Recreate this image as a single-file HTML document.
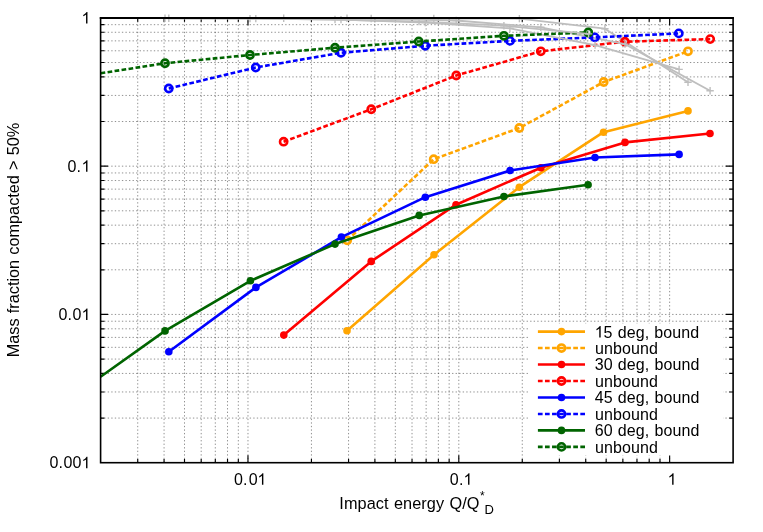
<!DOCTYPE html>
<html><head><meta charset="utf-8"><title>plot</title>
<style>html,body{margin:0;padding:0;background:#fff}svg{display:block;will-change:transform}text{font-family:"Liberation Sans",sans-serif;fill:#000}</style></head><body>
<svg width="763" height="532" viewBox="0 0 763 532" font-size="16">
<rect width="763" height="532" fill="#fff"/>
<path d="M137.73 462.7V17.9M164.07 462.7V17.9M184.5 462.7V17.9M201.19 462.7V17.9M215.31 462.7V17.9M227.53 462.7V17.9M238.32 462.7V17.9M247.97 462.7V17.9M311.43 462.7V17.9M348.56 462.7V17.9M374.9 462.7V17.9M395.33 462.7V17.9M412.03 462.7V17.9M426.14 462.7V17.9M438.37 462.7V17.9M449.15 462.7V17.9M458.8 462.7V17.9M522.27 462.7V17.9M559.39 462.7V17.9M585.73 462.7V17.9M606.17 462.7V17.9M622.86 462.7V17.9M636.97 462.7V17.9M649.2 462.7V17.9M659.99 462.7V17.9M669.63 462.7V17.9M100.6 418.07H733.1M100.6 391.96H733.1M100.6 373.43H733.1M100.6 359.07H733.1M100.6 347.33H733.1M100.6 337.4H733.1M100.6 328.8H733.1M100.6 321.22H733.1M100.6 314.43H733.1M100.6 269.8H733.1M100.6 243.69H733.1M100.6 225.17H733.1M100.6 210.8H733.1M100.6 199.06H733.1M100.6 189.13H733.1M100.6 180.54H733.1M100.6 172.95H733.1M100.6 166.17H733.1M100.6 121.53H733.1M100.6 95.43H733.1M100.6 76.9H733.1M100.6 62.53H733.1M100.6 50.79H733.1M100.6 40.87H733.1M100.6 32.27H733.1M100.6 24.68H733.1" stroke="#000" stroke-opacity="0.58" stroke-width="0.75" stroke-dasharray="1.35 2.2" fill="none"/>
<path d="M137.73 462.7v-3.8M137.73 17.9v3.8M164.07 462.7v-3.8M164.07 17.9v3.8M184.5 462.7v-3.8M184.5 17.9v3.8M201.19 462.7v-3.8M201.19 17.9v3.8M215.31 462.7v-3.8M215.31 17.9v3.8M227.53 462.7v-3.8M227.53 17.9v3.8M238.32 462.7v-3.8M238.32 17.9v3.8M247.97 462.7v-7.4M247.97 17.9v7.4M311.43 462.7v-3.8M311.43 17.9v3.8M348.56 462.7v-3.8M348.56 17.9v3.8M374.9 462.7v-3.8M374.9 17.9v3.8M395.33 462.7v-3.8M395.33 17.9v3.8M412.03 462.7v-3.8M412.03 17.9v3.8M426.14 462.7v-3.8M426.14 17.9v3.8M438.37 462.7v-3.8M438.37 17.9v3.8M449.15 462.7v-3.8M449.15 17.9v3.8M458.8 462.7v-7.4M458.8 17.9v7.4M522.27 462.7v-3.8M522.27 17.9v3.8M559.39 462.7v-3.8M559.39 17.9v3.8M585.73 462.7v-3.8M585.73 17.9v3.8M606.17 462.7v-3.8M606.17 17.9v3.8M622.86 462.7v-3.8M622.86 17.9v3.8M636.97 462.7v-3.8M636.97 17.9v3.8M649.2 462.7v-3.8M649.2 17.9v3.8M659.99 462.7v-3.8M659.99 17.9v3.8M669.63 462.7v-7.4M669.63 17.9v7.4M100.6 418.07h3.8M733.1 418.07h-3.8M100.6 391.96h3.8M733.1 391.96h-3.8M100.6 373.43h3.8M733.1 373.43h-3.8M100.6 359.07h3.8M733.1 359.07h-3.8M100.6 347.33h3.8M733.1 347.33h-3.8M100.6 337.4h3.8M733.1 337.4h-3.8M100.6 328.8h3.8M733.1 328.8h-3.8M100.6 321.22h3.8M733.1 321.22h-3.8M100.6 314.43h7.4M733.1 314.43h-7.4M100.6 269.8h3.8M733.1 269.8h-3.8M100.6 243.69h3.8M733.1 243.69h-3.8M100.6 225.17h3.8M733.1 225.17h-3.8M100.6 210.8h3.8M733.1 210.8h-3.8M100.6 199.06h3.8M733.1 199.06h-3.8M100.6 189.13h3.8M733.1 189.13h-3.8M100.6 180.54h3.8M733.1 180.54h-3.8M100.6 172.95h3.8M733.1 172.95h-3.8M100.6 166.17h7.4M733.1 166.17h-7.4M100.6 121.53h3.8M733.1 121.53h-3.8M100.6 95.43h3.8M733.1 95.43h-3.8M100.6 76.9h3.8M733.1 76.9h-3.8M100.6 62.53h3.8M733.1 62.53h-3.8M100.6 50.79h3.8M733.1 50.79h-3.8M100.6 40.87h3.8M733.1 40.87h-3.8M100.6 32.27h3.8M733.1 32.27h-3.8M100.6 24.68h3.8M733.1 24.68h-3.8" stroke="#000" stroke-width="1.15" fill="none"/>
<g fill="none" stroke-linejoin="round">
<path d="M347 330.7L434 254.8L519.3 187.2L603.5 132.2L688 110.9" stroke="#ffa500" stroke-width="2.6"/>
<circle cx="347" cy="330.7" r="3.8" fill="#ffa500"/>
<circle cx="434" cy="254.8" r="3.8" fill="#ffa500"/>
<circle cx="519.3" cy="187.2" r="3.8" fill="#ffa500"/>
<circle cx="603.5" cy="132.2" r="3.8" fill="#ffa500"/>
<circle cx="688" cy="110.9" r="3.8" fill="#ffa500"/>
<path d="M347.2 240.3L433.7 159.2L519.3 128L603.7 82L688 51.3" stroke="#ffa500" stroke-width="2.6" stroke-dasharray="4.7 2.37"/>
<circle cx="347.2" cy="240.3" r="3.6" stroke="#ffa500" stroke-width="2.6"/>
<circle cx="433.7" cy="159.2" r="3.6" stroke="#ffa500" stroke-width="2.6"/>
<circle cx="519.3" cy="128" r="3.6" stroke="#ffa500" stroke-width="2.6"/>
<circle cx="603.7" cy="82" r="3.6" stroke="#ffa500" stroke-width="2.6"/>
<circle cx="688" cy="51.3" r="3.6" stroke="#ffa500" stroke-width="2.6"/>
<path d="M347 18.2L433.8 18.5L519.4 18.6L604.9 28.7L688 82.2" stroke="#bebebe" stroke-width="1.8"/>
<path d="M343.3 18.2h7.4M347 14.5v7.4M430.1 18.5h7.4M433.8 14.8v7.4M515.7 18.6h7.4M519.4 14.9v7.4M601.2 28.7h7.4M604.9 25v7.4M684.3 82.2h7.4M688 78.5v7.4" stroke="#bebebe" stroke-width="1.4"/>
<path d="M283.8 335.1L371.2 261.4L456 204.7L540.9 167.7L625 142.4L710 133.5" stroke="#ff0000" stroke-width="2.6"/>
<circle cx="283.8" cy="335.1" r="3.8" fill="#ff0000"/>
<circle cx="371.2" cy="261.4" r="3.8" fill="#ff0000"/>
<circle cx="456" cy="204.7" r="3.8" fill="#ff0000"/>
<circle cx="540.9" cy="167.7" r="3.8" fill="#ff0000"/>
<circle cx="625" cy="142.4" r="3.8" fill="#ff0000"/>
<circle cx="710" cy="133.5" r="3.8" fill="#ff0000"/>
<path d="M283.6 141.7L371.25 109.25L456.25 75.5L540.8 51.3L624.9 41.7L710.2 39.1" stroke="#ff0000" stroke-width="2.6" stroke-dasharray="4.7 2.37"/>
<circle cx="283.6" cy="141.7" r="3.6" stroke="#ff0000" stroke-width="2.6"/>
<circle cx="371.25" cy="109.25" r="3.6" stroke="#ff0000" stroke-width="2.6"/>
<circle cx="456.25" cy="75.5" r="3.6" stroke="#ff0000" stroke-width="2.6"/>
<circle cx="540.8" cy="51.3" r="3.6" stroke="#ff0000" stroke-width="2.6"/>
<circle cx="624.9" cy="41.7" r="3.6" stroke="#ff0000" stroke-width="2.6"/>
<circle cx="710.2" cy="39.1" r="3.6" stroke="#ff0000" stroke-width="2.6"/>
<path d="M283.7 18.2L371.2 18.5L456.2 20.5L540.8 27.3L625 44.1L710.1 90.8" stroke="#bebebe" stroke-width="1.8"/>
<path d="M280 18.2h7.4M283.7 14.5v7.4M367.5 18.5h7.4M371.2 14.8v7.4M452.5 20.5h7.4M456.2 16.8v7.4M537.1 27.3h7.4M540.8 23.6v7.4M621.3 44.1h7.4M625 40.4v7.4M706.4 90.8h7.4M710.1 87.1v7.4" stroke="#bebebe" stroke-width="1.4"/>
<path d="M168.8 351.7L255.9 287.4L341.4 237.1L425.3 197.2L510.1 170.5L595 157.5L679.1 154.4" stroke="#0000ff" stroke-width="2.6"/>
<circle cx="168.8" cy="351.7" r="3.8" fill="#0000ff"/>
<circle cx="255.9" cy="287.4" r="3.8" fill="#0000ff"/>
<circle cx="341.4" cy="237.1" r="3.8" fill="#0000ff"/>
<circle cx="425.3" cy="197.2" r="3.8" fill="#0000ff"/>
<circle cx="510.1" cy="170.5" r="3.8" fill="#0000ff"/>
<circle cx="595" cy="157.5" r="3.8" fill="#0000ff"/>
<circle cx="679.1" cy="154.4" r="3.8" fill="#0000ff"/>
<path d="M168.75 88.5L255.75 67.5L341 52.75L425.25 45.75L510 40.9L594.8 37.4L678.8 33.4" stroke="#0000ff" stroke-width="2.6" stroke-dasharray="4.7 2.37"/>
<circle cx="168.75" cy="88.5" r="3.6" stroke="#0000ff" stroke-width="2.6"/>
<circle cx="255.75" cy="67.5" r="3.6" stroke="#0000ff" stroke-width="2.6"/>
<circle cx="341" cy="52.75" r="3.6" stroke="#0000ff" stroke-width="2.6"/>
<circle cx="425.25" cy="45.75" r="3.6" stroke="#0000ff" stroke-width="2.6"/>
<circle cx="510" cy="40.9" r="3.6" stroke="#0000ff" stroke-width="2.6"/>
<circle cx="594.8" cy="37.4" r="3.6" stroke="#0000ff" stroke-width="2.6"/>
<circle cx="678.8" cy="33.4" r="3.6" stroke="#0000ff" stroke-width="2.6"/>
<path d="M168.8 18.3L255.8 18.6L341 19.6L425.3 22.6L509.9 28.3L595.1 45.1L679.1 69.4" stroke="#bebebe" stroke-width="1.8"/>
<path d="M165.1 18.3h7.4M168.8 14.6v7.4M252.1 18.6h7.4M255.8 14.9v7.4M337.3 19.6h7.4M341 15.9v7.4M421.6 22.6h7.4M425.3 18.9v7.4M506.2 28.3h7.4M509.9 24.6v7.4M591.4 45.1h7.4M595.1 41.4v7.4M675.4 69.4h7.4M679.1 65.7v7.4" stroke="#bebebe" stroke-width="1.4"/>
<path d="M100.6 376.7L165.05 330.9L250.4 280.8L335 244.1L419.2 215.4L503.9 196.5L588.1 184.8" stroke="#006400" stroke-width="2.6"/>
<circle cx="165.05" cy="330.9" r="3.8" fill="#006400"/>
<circle cx="250.4" cy="280.8" r="3.8" fill="#006400"/>
<circle cx="335" cy="244.1" r="3.8" fill="#006400"/>
<circle cx="419.2" cy="215.4" r="3.8" fill="#006400"/>
<circle cx="503.9" cy="196.5" r="3.8" fill="#006400"/>
<circle cx="588.1" cy="184.8" r="3.8" fill="#006400"/>
<path d="M100.6 73.25L165 63.25L250 55L335 47.75L418.75 41.5L503.9 35.8L588.3 32.5" stroke="#006400" stroke-width="2.6" stroke-dasharray="4.7 2.37"/>
<circle cx="165" cy="63.25" r="3.6" stroke="#006400" stroke-width="2.6"/>
<circle cx="250" cy="55" r="3.6" stroke="#006400" stroke-width="2.6"/>
<circle cx="335" cy="47.75" r="3.6" stroke="#006400" stroke-width="2.6"/>
<circle cx="418.75" cy="41.5" r="3.6" stroke="#006400" stroke-width="2.6"/>
<circle cx="503.9" cy="35.8" r="3.6" stroke="#006400" stroke-width="2.6"/>
<circle cx="588.3" cy="32.5" r="3.6" stroke="#006400" stroke-width="2.6"/>
<path d="M165 18.3L250 18.6L335 19.5L419 21.6L503.9 25.7L588.6 33.9" stroke="#bebebe" stroke-width="1.8"/>
<path d="M161.3 18.3h7.4M165 14.6v7.4M246.3 18.6h7.4M250 14.9v7.4M331.3 19.5h7.4M335 15.8v7.4M415.3 21.6h7.4M419 17.9v7.4M500.2 25.7h7.4M503.9 22v7.4M584.9 33.9h7.4M588.6 30.2v7.4" stroke="#bebebe" stroke-width="1.4"/>
</g>
<rect x="528" y="323.4" width="195" height="132" fill="#fff"/>
<path d="M537.9 331.6H585" stroke="#ffa500" stroke-width="2.6" fill="none"/>
<circle cx="561.5" cy="331.6" r="3.8" fill="#ffa500"/>
<path d="M537.9 348.07H585" stroke="#ffa500" stroke-width="2.6" stroke-dasharray="4.7 2.37" fill="none"/>
<circle cx="561.5" cy="348.07" r="3.6" stroke="#ffa500" stroke-width="2.6" fill="none"/>
<path d="M763 0H583V1147Q518 1085 412.5 1023T223 930V1104Q374 1175 487 1276T647 1472H763Z" transform="translate(594.7 337.5) scale(0.00781 -0.00781)" fill="#000"/>
<text x="603.55" y="337.5" letter-spacing="0.1" word-spacing="0.55">5 deg, bound</text>
<text x="594.9" y="353.87" letter-spacing="0.12">unbound</text>
<path d="M537.9 364.54H585" stroke="#ff0000" stroke-width="2.6" fill="none"/>
<circle cx="561.5" cy="364.54" r="3.8" fill="#ff0000"/>
<path d="M537.9 381.01H585" stroke="#ff0000" stroke-width="2.6" stroke-dasharray="4.7 2.37" fill="none"/>
<circle cx="561.5" cy="381.01" r="3.6" stroke="#ff0000" stroke-width="2.6" fill="none"/>
<text x="594.7" y="370.44" letter-spacing="0.1" word-spacing="0.55">30 deg, bound</text>
<text x="594.9" y="386.81" letter-spacing="0.12">unbound</text>
<path d="M537.9 397.48H585" stroke="#0000ff" stroke-width="2.6" fill="none"/>
<circle cx="561.5" cy="397.48" r="3.8" fill="#0000ff"/>
<path d="M537.9 413.95H585" stroke="#0000ff" stroke-width="2.6" stroke-dasharray="4.7 2.37" fill="none"/>
<circle cx="561.5" cy="413.95" r="3.6" stroke="#0000ff" stroke-width="2.6" fill="none"/>
<text x="594.7" y="403.38" letter-spacing="0.1" word-spacing="0.55">45 deg, bound</text>
<text x="594.9" y="419.75" letter-spacing="0.12">unbound</text>
<path d="M537.9 430.42H585" stroke="#006400" stroke-width="2.6" fill="none"/>
<circle cx="561.5" cy="430.42" r="3.8" fill="#006400"/>
<path d="M537.9 446.89H585" stroke="#006400" stroke-width="2.6" stroke-dasharray="4.7 2.37" fill="none"/>
<circle cx="561.5" cy="446.89" r="3.6" stroke="#006400" stroke-width="2.6" fill="none"/>
<text x="594.7" y="436.32" letter-spacing="0.1" word-spacing="0.55">60 deg, bound</text>
<text x="594.9" y="452.69" letter-spacing="0.12">unbound</text>
<rect x="100.6" y="17.9" width="632.5" height="444.8" fill="none" stroke="#000" stroke-width="1.6"/>
<path d="M99.8 17.95H733.9" stroke="#000" stroke-width="1.85" fill="none"/>
<path d="M763 0H583V1147Q518 1085 412.5 1023T223 930V1104Q374 1175 487 1276T647 1472H763Z" transform="translate(81.5 23.55) scale(0.00781 -0.00781)" fill="#000"/>
<text x="67.5 76.5" y="171.82">0.</text>
<path d="M763 0H583V1147Q518 1085 412.5 1023T223 930V1104Q374 1175 487 1276T647 1472H763Z" transform="translate(81.5 171.82) scale(0.00781 -0.00781)" fill="#000"/>
<text x="58.5 67.5 72.5" y="320.08">0.0</text>
<path d="M763 0H583V1147Q518 1085 412.5 1023T223 930V1104Q374 1175 487 1276T647 1472H763Z" transform="translate(81.5 320.08) scale(0.00781 -0.00781)" fill="#000"/>
<text x="49.5 58.5 63.5 72.5" y="468.35">0.00</text>
<path d="M763 0H583V1147Q518 1085 412.5 1023T223 930V1104Q374 1175 487 1276T647 1472H763Z" transform="translate(81.5 468.35) scale(0.00781 -0.00781)" fill="#000"/>
<text x="234 243.1 248.7" y="484.75">0.0</text>
<path d="M763 0H583V1147Q518 1085 412.5 1023T223 930V1104Q374 1175 487 1276T647 1472H763Z" transform="translate(257.4 484.75) scale(0.00781 -0.00781)" fill="#000"/>
<text x="449.75 458.9" y="484.75">0.</text>
<path d="M763 0H583V1147Q518 1085 412.5 1023T223 930V1104Q374 1175 487 1276T647 1472H763Z" transform="translate(463.5 484.75) scale(0.00781 -0.00781)" fill="#000"/>
<path d="M763 0H583V1147Q518 1085 412.5 1023T223 930V1104Q374 1175 487 1276T647 1472H763Z" transform="translate(667.6 484.75) scale(0.00781 -0.00781)" fill="#000"/>
<text x="339.3" y="509.2" font-size="16.3" letter-spacing="0.09" word-spacing="0.6">Impact energy Q/Q<tspan font-size="12px" dy="-8.8" dx="0.5">*</tspan><tspan font-size="13px" dy="13.4" dx="-0.3">D</tspan></text>
<text transform="translate(18.9 240) rotate(-90)" text-anchor="middle" font-size="16.3" word-spacing="0.6">Mass fraction compacted &gt; 50%</text>
</svg></body></html>
